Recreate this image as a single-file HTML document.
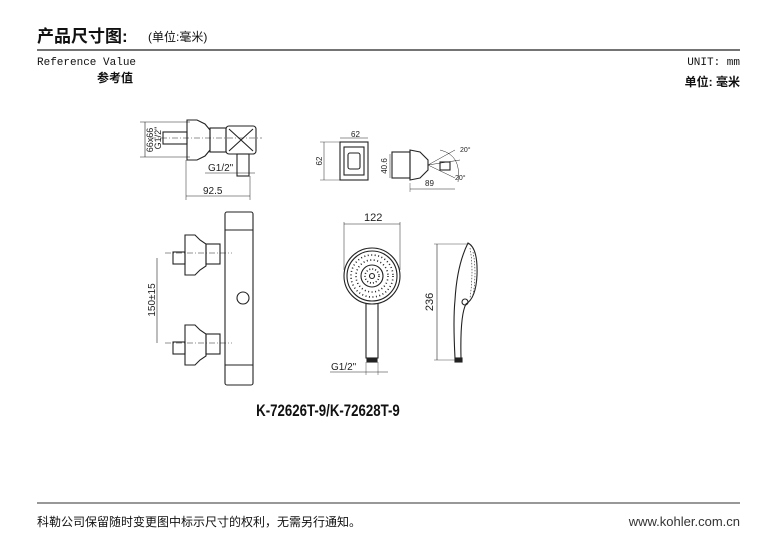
<!DOCTYPE html>
<html><head><meta charset="utf-8"><style>
html,body{margin:0;padding:0;background:#fff;}
body{width:774px;height:545px;overflow:hidden;position:relative;}
</style></head><body>
<svg width="774" height="545" viewBox="0 0 774 545" xmlns="http://www.w3.org/2000/svg" style="position:absolute;left:0;top:0">
<g font-family="'Liberation Sans','Noto Sans CJK SC',sans-serif">
<text x="37" y="42" font-size="17" font-weight="600" fill="#111">产品尺寸图:</text>
<text x="148" y="41" font-size="12" fill="#111">(单位:毫米)</text>
<line x1="37" y1="50" x2="740" y2="50" stroke="#222" stroke-width="1.2"/>
<text x="37" y="65" font-size="11" font-family="'Liberation Mono',monospace" fill="#111">Reference Value</text>
<text x="97" y="82" font-size="12" font-weight="bold" fill="#111">参考值</text>
<text x="740" y="65" font-size="11" font-family="'Liberation Mono',monospace" fill="#111" text-anchor="end">UNIT:  mm</text>
<text x="740" y="86" font-size="12" font-weight="bold" fill="#111" text-anchor="end">单位: 毫米</text>
<line x1="37" y1="503" x2="740" y2="503" stroke="#777" stroke-width="1.5"/>
<text x="37" y="526" font-size="12" fill="#111">科勒公司保留随时变更图中标示尺寸的权利，无需另行通知。</text>
<text x="740" y="526" font-size="13" fill="#333" text-anchor="end">www.kohler.com.cn</text>
</g>
<g fill="none" stroke="#222" stroke-width="1.1" font-family="'Liberation Sans',sans-serif">
<line x1="140" y1="122" x2="190" y2="122" stroke-width="0.5"/>
<line x1="140" y1="157" x2="190" y2="157" stroke-width="0.5"/>
<line x1="145" y1="122" x2="145" y2="157" stroke-width="0.6"/>
<rect x="163" y="132" width="24" height="12"/>
<path d="M187 120 L197 120 L205 124 L210 130 L210 150 L205 156 L197 160 L187 160 Z"/>
<rect x="210" y="128" width="16" height="24"/>
<rect x="226" y="126" width="30" height="28" rx="3"/>
<path d="M229 129 L253 151 M253 129 L229 151"/>
<rect x="237" y="154" width="12" height="22"/>
<line x1="150" y1="138" x2="262" y2="138" stroke-dasharray="6 2 1 2" stroke-width="0.5"/>
<line x1="205" y1="173" x2="255" y2="173" stroke-width="0.5"/>
<line x1="186" y1="160" x2="186" y2="200" stroke-width="0.5"/>
<line x1="250" y1="176" x2="250" y2="200" stroke-width="0.5"/>
<line x1="186" y1="196" x2="250" y2="196" stroke-width="0.6"/>
<rect x="340" y="142" width="28" height="38"/>
<rect x="344" y="147" width="20" height="28"/>
<rect x="348" y="153" width="12" height="16" rx="2"/>
<line x1="340" y1="138" x2="368" y2="138" stroke-width="0.5"/>
<line x1="324" y1="142" x2="324" y2="180" stroke-width="0.5"/>
<line x1="320" y1="142" x2="340" y2="142" stroke-width="0.4"/>
<line x1="320" y1="180" x2="340" y2="180" stroke-width="0.4"/>
<line x1="390" y1="154" x2="390" y2="178" stroke-width="0.5"/>
<rect x="392" y="152" width="18" height="26"/>
<path d="M410 150 L420 152 L428 160 L428 170 L420 178 L410 180 Z"/>
<path d="M428 165 L455 150 M428 165 L460 160 M428 165 L455 178 M440 150 Q462 155 458 182" stroke-width="0.5"/>
<rect x="440" y="162" width="10" height="8"/>
<line x1="410" y1="183" x2="410" y2="192" stroke-width="0.4"/>
<line x1="410" y1="189" x2="455" y2="189" stroke-width="0.5"/>
<rect x="225" y="212" width="28" height="173" rx="2"/>
<line x1="225" y1="230" x2="253" y2="230"/>
<line x1="225" y1="365" x2="253" y2="365"/>
<circle cx="243" cy="298" r="6"/>
<path d="M185 235 L195 235 L200 240 L206 244 L206 266 L200 270 L195 275 L185 275 Z"/>
<rect x="206" y="244" width="14" height="20"/>
<rect x="173" y="252" width="12" height="12"/>
<line x1="165" y1="253" x2="232" y2="253" stroke-dasharray="6 2 1 2" stroke-width="0.5"/>
<path d="M185 325 L195 325 L200 330 L206 334 L206 356 L200 360 L195 365 L185 365 Z"/>
<rect x="206" y="334" width="14" height="20"/>
<rect x="173" y="342" width="12" height="12"/>
<line x1="165" y1="343" x2="232" y2="343" stroke-dasharray="6 2 1 2" stroke-width="0.5"/>
<line x1="157" y1="258" x2="157" y2="343" stroke-width="0.6"/>
<line x1="344" y1="222" x2="344" y2="270" stroke-width="0.5"/>
<line x1="400" y1="222" x2="400" y2="270" stroke-width="0.5"/>
<line x1="344" y1="224" x2="400" y2="224" stroke-width="0.6"/>
<circle cx="372" cy="276" r="28"/>
<circle cx="372" cy="276" r="25"/>
<circle cx="372" cy="276" r="21" stroke-dasharray="1 2.5" stroke-width="1.6"/>
<circle cx="372" cy="276" r="16" stroke-dasharray="1 2.5" stroke-width="1.6"/>
<circle cx="372" cy="276" r="11"/>
<circle cx="372" cy="276" r="7" stroke-dasharray="1 2" stroke-width="1.6"/>
<circle cx="372" cy="276" r="2.5"/>
<path d="M366 303 L366 358 L378 358 L378 303"/>
<rect x="367" y="358" width="10" height="4" fill="#222"/>
<line x1="366" y1="362" x2="366" y2="375" stroke-width="0.4"/>
<line x1="378" y1="362" x2="378" y2="375" stroke-width="0.4"/>
<line x1="330" y1="372" x2="388" y2="372" stroke-width="0.5"/>
<line x1="434" y1="244" x2="470" y2="244" stroke-width="0.4"/>
<line x1="434" y1="360" x2="460" y2="360" stroke-width="0.4"/>
<line x1="437" y1="244" x2="437" y2="360" stroke-width="0.6"/>
<path d="M468 243 Q478 248 477 275 Q476 298 466 304 Q460 315 461 358 L455 358 Q453 320 455 300 Q457 265 468 243 Z"/>
<path d="M470 248 Q474 270 470 298 M473 252 Q477 272 473 295" stroke-width="0.6" stroke-dasharray="1.5 1.5"/>
<circle cx="465" cy="302" r="3"/>
<rect x="455" y="358" width="7" height="4" fill="#222"/>
</g>
<g font-family="'Liberation Sans',sans-serif" font-size="9" fill="#222">
<text transform="translate(153,140) rotate(-90)" text-anchor="middle">66x66</text>
<text transform="translate(161,138) rotate(-90)" text-anchor="middle">G1/2"</text>
<text x="208" y="171" font-size="10">G1/2"</text>
<text x="203" y="194" font-size="10">92.5</text>
<text x="351" y="137" font-size="8">62</text>
<text transform="translate(322,161) rotate(-90)" text-anchor="middle" font-size="8">62</text>
<text transform="translate(387,166) rotate(-90)" text-anchor="middle" font-size="8">40.6</text>
<text x="425" y="186" font-size="8">89</text>
<text x="460" y="152" font-size="7">20°</text>
<text x="455" y="180" font-size="7">20°</text>
<text transform="translate(155,300) rotate(-90)" text-anchor="middle" font-size="10">150±15</text>
<text x="364" y="221" font-size="11">122</text>
<text transform="translate(433,302) rotate(-90)" text-anchor="middle" font-size="11">236</text>
<text x="331" y="370" font-size="10">G1/2"</text>
<text x="328" y="416" font-size="17" font-weight="bold" text-anchor="middle" fill="#111" transform="translate(328,0) scale(0.78,1) translate(-328,0)">K-72626T-9/K-72628T-9</text>
</g>
</svg>
</body></html>
